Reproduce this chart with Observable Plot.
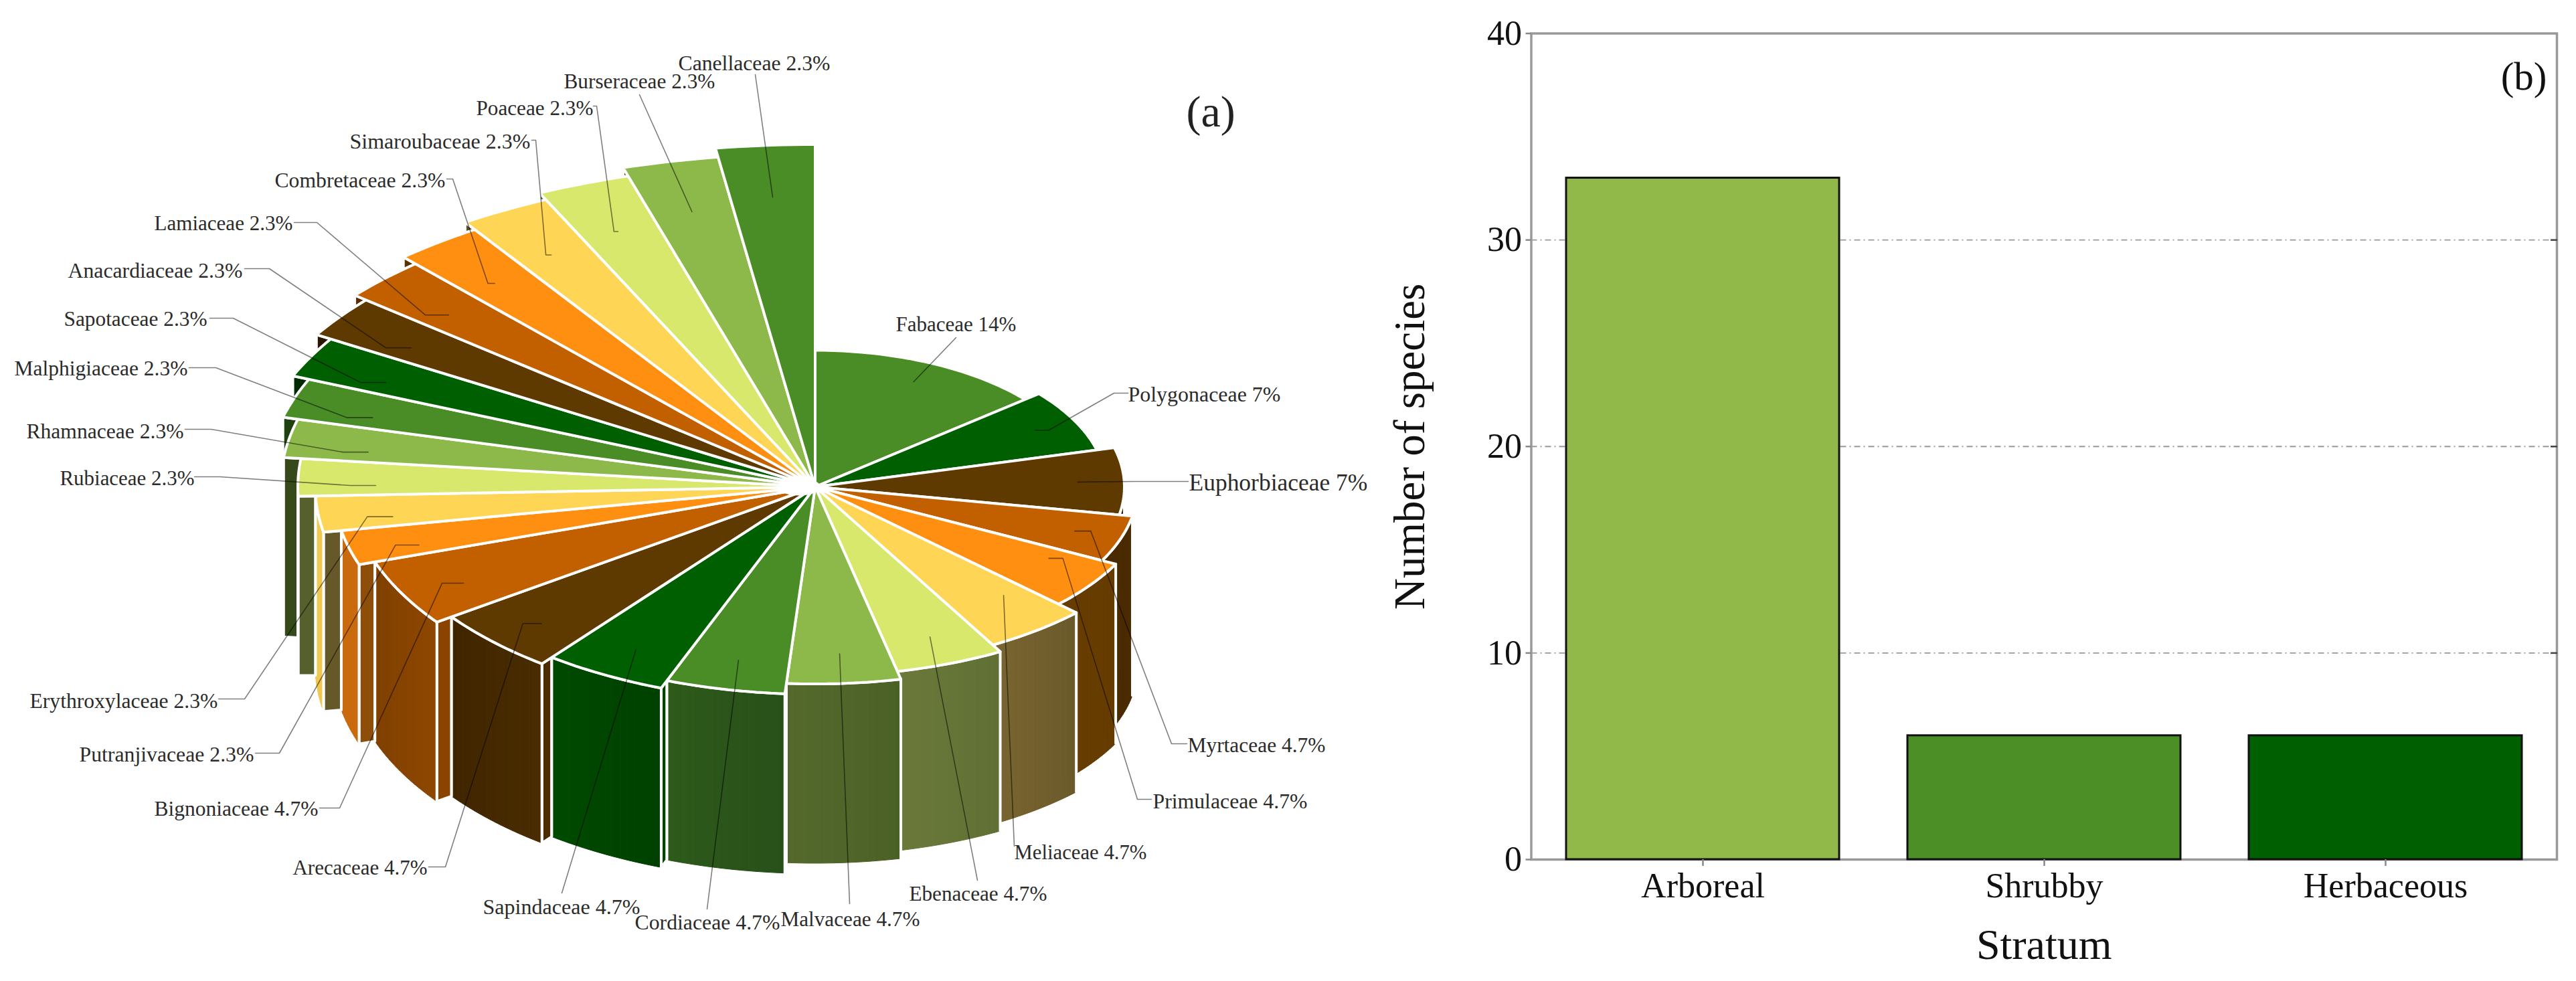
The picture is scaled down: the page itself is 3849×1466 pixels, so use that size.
<!DOCTYPE html>
<html>
<head>
<meta charset="utf-8">
<script src="https://cdn.jsdelivr.net/npm/d3@7"></script>
<script src="https://cdn.jsdelivr.net/npm/@observablehq/plot@0.6"></script>
<style>
  html,body{margin:0;padding:0;background:#fff}
  #wrap{display:flex;width:3849px;height:1466px}
  svg{display:block;max-width:none}
</style>
</head>
<body>
<div id="wrap"></div>
<script>
// ---- Panel (a): families, species per family and the printed percentages ----
const families = ["Fabaceae","Polygonaceae","Euphorbiaceae","Myrtaceae","Primulaceae","Meliaceae","Ebenaceae","Malvaceae","Cordiaceae","Sapindaceae","Arecaceae","Bignoniaceae","Putranjivaceae","Erythroxylaceae","Rubiaceae","Rhamnaceae","Malphigiaceae","Sapotaceae","Anacardiaceae","Lamiaceae","Combretaceae","Simaroubaceae","Poaceae","Burseraceae","Canellaceae"];
const speciesPerFamily = [6,3,3,2,2,2,2,2,2,2,2,2,1,1,1,1,1,1,1,1,1,1,1,1,1];
const shareText = ["14%","7%","7%","4.7%","4.7%","4.7%","4.7%","4.7%","4.7%","4.7%","4.7%","4.7%","2.3%","2.3%","2.3%","2.3%","2.3%","2.3%","2.3%","2.3%","2.3%","2.3%","2.3%","2.3%","2.3%"];
// outward pull of every slice
const sliceRadius = [408,435,462,482,505,542,565,589,620,644,668,695,720,747,773,799,822,848,873,895,922,948,970,996,1023];
const palette = ["#4a8c26","#005f00","#5f3a00","#c26000","#ff8f10","#ffd555","#d8e86c","#8db84a"];
// wall shading: [left end, right end] on the screen
const wallColors = {2:["#3a2000","#3a2000"],3:["#4a2a00","#4a2a00"],4:["#663c00","#663c00"],5:["#7a6530","#6a5a2b"],6:["#6b7a3a","#607035"],7:["#55692d","#4a6125"],8:["#2e5a1a","#28501a"],9:["#004a00","#004000"],10:["#402500","#4a2c00"],11:["#804000","#8f4700"],12:["#c96a0e","#c96a0e"],13:["#f0c850","#f0c850"],14:["#c8d860","#c8d860"]};
const faceColors = {8:"#2b5518",9:"#004400",10:"#4a2c00",11:"#8a4400",12:"#8d4e0a",13:"#65592a",14:"#55602c",15:"#36491a",16:"#1f4010",17:"#002a00",18:"#2a1600",19:"#5a2a00",20:"#5a3000",21:"#5a5020",22:"#5a6030",23:"#3a5020",24:"#2a5018"};

// Label layout (page pixels of the left panel)
const labelLeft = [1338,1685,1776,1774,1722,1515,1358,1166,948,721,437,230,118,44,89,39,21,95,101,230,410,522,711,842,1013];
const labelMid  = [485,589,721,1113,1197,1274,1336,1373,1378,1355,1297,1208,1127,1047,715,644,550,476,404,334,269,211,161,121,94];
const labelWidth= [180,228,267,206,231,198,206,208,217,235,201,245,261,281,201,235,259,214,261,207,255,270,175,226,227];
const leaderOuter = [
 [[1428,504]],
 [[1685,587],[1664,587]],
 [[1775,719],[1693,719]],
 [[1773,1111],[1750,1111]],
 [[1720,1194],[1699,1194]],
 [[1515,1264]],
 [[1460,1315]],
 [[1269,1350]],
 [[1056,1358]],
 [[839,1334]],
 [[640,1295],[665,1295]],
 [[477,1207],[507,1207]],
 [[381,1125],[417,1125]],
 [[326,1044],[365,1044]],
 [[290,712],[328,712]],
 [[276,641],[315,641]],
 [[282,549],[322,549]],
 [[313,475],[348,475]],
 [[365,401],[402,401]],
 [[439,332],[473,332]],
 [[667,267],[676,267]],
 [[794,209],[800,209]],
 [[886,158],[891,158]],
 [[955,141]],
 [[1128,111]]
];
const innerStub = [0,20,0,24,21,0,0,0,0,0,-28,-32,-35,-38,-38,-38,-38,-38,-38,-35,-10,-8,-6,0,0];
const innerNudge = {4:-18,5:-20};

// ---- Panel (b): species per stratum ----
const strata = ["Arboreal","Shrubby","Herbaceous"];
const speciesCount = [33,6,6];
const strataColors = ["#90b94a","#4c8f27","#005f00"];
const yTicks = [0,10,20,30,40];

// ---- Geometry ----
const cx = 1217.5, cy = 727, tilt = 0.5, depth = 268;
const total = d3.sum(speciesPerFamily);
const starts = [];
speciesPerFamily.reduce((a,s,i)=>{starts[i]=a; return a+s/total*360;},0);
const ends = speciesPerFamily.map((s,i)=>starts[i]+s/total*360);
const rad = d=>d*Math.PI/180;
const px = (t,r)=>cx+r*Math.sin(rad(t));
const py = (t,r)=>cy-tilt*r*Math.cos(rad(t));
const arc = (t0,t1,r)=>{ const n=Math.max(2,Math.ceil(Math.abs(t1-t0))); return d3.range(n+1).map(k=>{const t=t0+(t1-t0)*k/n; return [px(t,r),py(t,r)];}); };

const tops=[], walls=[];
const push=(arr,id,color,pts)=>pts.forEach(p=>arr.push({id,color,x:p[0],y:p[1]}));

families.forEach((f,i)=>{
  const pts=[[cx,cy],...arc(starts[i],ends[i],sliceRadius[i]),[cx,cy]];
  push(tops,f,palette[i%palette.length],pts);
});
const wallFor=i=>{
  const a=Math.max(starts[i],90), b=Math.min(ends[i],270);
  if(b>a && wallColors[i]){
    const top=arc(a,b,sliceRadius[i]);
    const mix=d3.interpolateRgb(wallColors[i][1],wallColors[i][0]); // a is at the right side of the front
    const x0=d3.min(top,p=>p[0]), x1=d3.max(top,p=>p[0]);
    top.slice(0,-1).forEach((p,k)=>{
      const q=top[k+1], c=mix(1-((p[0]+q[0])/2-x0)/(x1-x0||1));
      push(walls,"w"+i+"s"+k,c,[p,q,[q[0],q[1]+depth],[p[0],p[1]+depth],p]);
    });
  }
};
const faceFor=i=>{
  if(faceColors[i] && i>0){
    const t=starts[i], r0=sliceRadius[i-1], r1=sliceRadius[i];
    const A=[px(t,r0),py(t,r0)], B=[px(t,r1),py(t,r1)];
    push(walls,"f"+i,faceColors[i],[A,B,[B[0],B[1]+depth],[A[0],A[1]+depth],A]);
  }
};
const edges=[];
const edgeFor=i=>{
  const a=Math.max(starts[i],90), b=Math.min(ends[i],270);
  if(b>a && wallColors[i]){
    const top=arc(a,b,sliceRadius[i]);
    push(edges,"e"+i,"",[...top,[top[top.length-1][0],top[top.length-1][1]+depth]]);
    push(edges,"s"+i,"",[top[0],[top[0][0],top[0][1]+depth]]);
  }
};

// paint walls: right half front to back, then left half from the rear forwards
const wallMarks=[];
const sequence=[...families.keys()].filter(i=>starts[i]<180).concat([...families.keys()].filter(i=>starts[i]>=180).reverse());
sequence.forEach(i=>{
  walls.length=0; edges.length=0;
  wallFor(i); edgeFor(i);
  const fill=walls.slice(); const line=edges.slice();
  walls.length=0; faceFor(i);
  const face=walls.slice();
  wallMarks.push(
    Plot.line(face,{x:"x",y:"y",z:"id",fill:"color",stroke:"#fff",strokeWidth:4,strokeLinejoin:"miter"}),
    Plot.line(fill,{x:"x",y:"y",z:"id",fill:"color",stroke:"color",strokeWidth:1}),
    Plot.line(line,{x:"x",y:"y",z:"id",stroke:"#fff",strokeWidth:4})
  );
});

// Leaders end at 85% of each slice's radius, along its middle angle
const leaders=[];
families.forEach((f,i)=>{
  const m=(starts[i]+ends[i])/2, r=0.85*sliceRadius[i];
  const dy=10*Math.max(0,-Math.sin(rad(m)))+(innerNudge[i]||0);
  const inner=[px(m,r),py(m,r)+dy];
  const pts=[...leaderOuter[i]];
  if(innerStub[i]) pts.push([inner[0]+innerStub[i],inner[1]]);
  pts.push(inner);
  push(leaders,"l"+i,"",pts);
});

// white hub where the seams run together, elongated toward the thin slices
const hub=d3.range(0,361,10).map(t=>({x:cx-24+32*Math.sin(rad(t)),y:cy+13*Math.cos(rad(t))}));

const ctx=document.createElement("canvas").getContext("2d");
ctx.font="100px 'Liberation Serif'";
const labels=families.map((f,i)=>{
  const text=f+" "+shareText[i];
  return {text,x:labelLeft[i],y:labelMid[i],size:labelWidth[i]/ctx.measureText(text).width*100};
});

const pie=Plot.plot({
  width:2050,height:1466,margin:0,
  x:{domain:[0,2050],axis:null},
  y:{domain:[1466,0],axis:null},
  color:{type:"identity"},
  style:{fontFamily:"'Liberation Serif',serif",background:"#fff"},
  marks:[
    ...wallMarks,
    Plot.line(tops,{x:"x",y:"y",z:"id",fill:"color",stroke:"#fff",strokeWidth:4,strokeLinejoin:"miter"}),
    Plot.line(hub,{x:"x",y:"y",fill:"#fff",stroke:"none"}),
    Plot.line(leaders,{x:"x",y:"y",z:"id",stroke:"#000",strokeOpacity:0.5,strokeWidth:1.6}),
    Plot.text(labels,{x:"x",y:"y",text:"text",fontSize:"size",textAnchor:"start",lineAnchor:"middle",fill:"#2b2b2b"}),
    Plot.text(["(a)"],{x:[1772],y:[167],textAnchor:"start",lineAnchor:"middle",fontSize:66,fill:"#222"})
  ]
});

const bars=Plot.plot({
  width:1799,height:1466,
  marginLeft:237.5,marginRight:29,marginTop:49.5,marginBottom:182,
  x:{domain:strata,paddingInner:0.2,paddingOuter:0.1,axis:null},
  y:{domain:[0,40],axis:null},
  color:{type:"identity"},
  style:{fontFamily:"'Liberation Serif',serif",background:"#fff",color:"#111"},
  marks:[
    Plot.gridY([10,20,30],{stroke:"#999",strokeOpacity:1,strokeWidth:1.8,strokeDasharray:"9 5 2 5"}),
    Plot.frame({stroke:"#999",strokeWidth:3.5}),
    Plot.barY(strata.map((s,i)=>({s,v:speciesCount[i],c:strataColors[i]})),{x:"s",y:"v",fill:"c",stroke:"#111",strokeWidth:3}),
    Plot.axisY({ticks:yTicks,tickSize:8,tickPadding:6,label:null,fontSize:52,stroke:"#888",strokeWidth:2.5}),
    Plot.axisY({anchor:"right",ticks:[10,20,30],tickSize:-10,tickFormat:()=>"",label:null,stroke:"#444",strokeWidth:2.5}),
    Plot.axisX({tickSize:10,tickPadding:10,label:null,fontSize:52,stroke:"#888",strokeWidth:2.5}),
    Plot.text(["Number of species"],{frameAnchor:"left",dx:-181,rotate:-90,textAnchor:"middle",fontSize:65,fill:"#111"}),
    Plot.text(["Stratum"],{frameAnchor:"bottom",dy:148,fontSize:64,fill:"#111"}),
    Plot.text(["(b)"],{frameAnchor:"top-right",dx:-15,dy:65,lineAnchor:"middle",fontSize:59,fill:"#111"})
  ]
});

const wrap=document.getElementById("wrap");
wrap.append(pie,bars);
</script>
</body>
</html>
